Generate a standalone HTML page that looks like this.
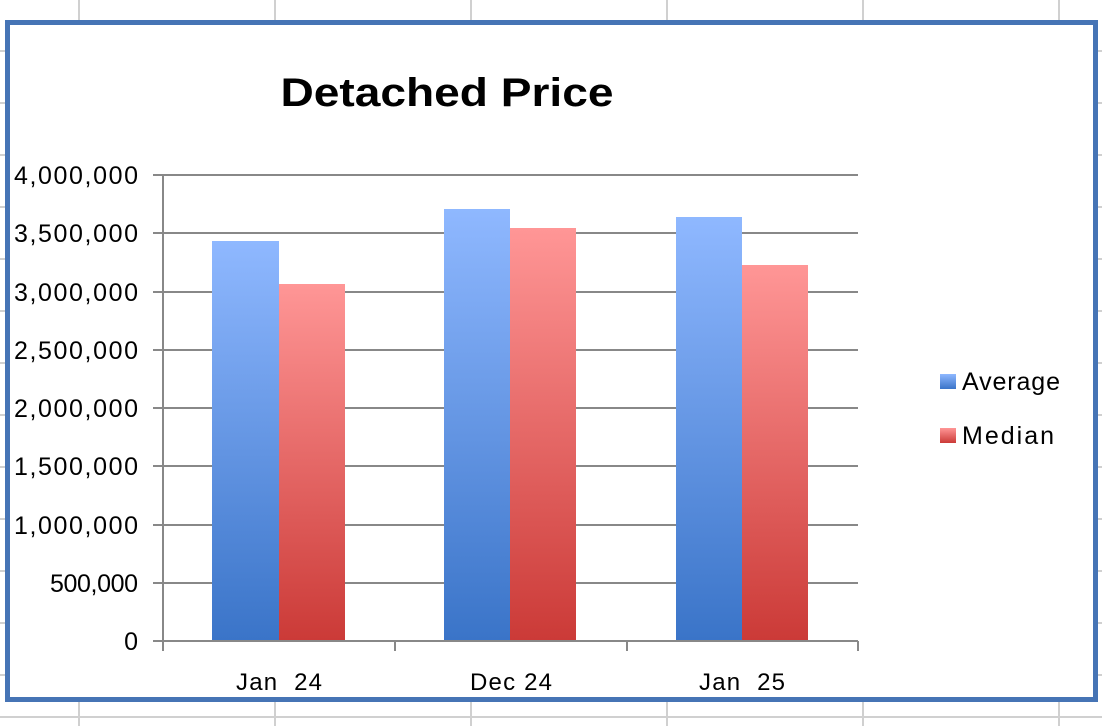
<!DOCTYPE html>
<html><head><style>
html,body{margin:0;padding:0;background:#fff;}
svg{display:block;font-family:"Liberation Sans",sans-serif;}
</style></head><body>
<svg width="1102" height="726" xmlns="http://www.w3.org/2000/svg">
<defs>
<linearGradient id="gb" x1="0" y1="0" x2="0" y2="1">
<stop offset="0" stop-color="#8fb8ff"/><stop offset="1" stop-color="#3a74c8"/></linearGradient>
<linearGradient id="gr" x1="0" y1="0" x2="0" y2="1">
<stop offset="0" stop-color="#ff9696"/><stop offset="1" stop-color="#cb3a37"/></linearGradient>
</defs>
<g stroke="#d0d0d0" stroke-width="2">
<line x1="79" y1="0" x2="79" y2="726"/><line x1="275" y1="0" x2="275" y2="726"/>
<line x1="471" y1="0" x2="471" y2="726"/><line x1="667" y1="0" x2="667" y2="726"/>
<line x1="863" y1="0" x2="863" y2="726"/><line x1="1059" y1="0" x2="1059" y2="726"/>
<line x1="0" y1="51" x2="1102" y2="51"/><line x1="0" y1="103" x2="1102" y2="103"/>
<line x1="0" y1="155" x2="1102" y2="155"/><line x1="0" y1="207" x2="1102" y2="207"/>
<line x1="0" y1="259" x2="1102" y2="259"/><line x1="0" y1="311" x2="1102" y2="311"/>
<line x1="0" y1="363" x2="1102" y2="363"/><line x1="0" y1="415" x2="1102" y2="415"/>
<line x1="0" y1="467" x2="1102" y2="467"/><line x1="0" y1="519" x2="1102" y2="519"/>
<line x1="0" y1="571" x2="1102" y2="571"/><line x1="0" y1="623" x2="1102" y2="623"/>
<line x1="0" y1="675" x2="1102" y2="675"/><line x1="0" y1="717" x2="1102" y2="717"/>
</g>
<rect x="7.5" y="22.5" width="1088" height="677" fill="#fff" stroke="#4674b5" stroke-width="5"/>
<text x="447" y="106" font-size="40" font-weight="bold" text-anchor="middle" textLength="333" lengthAdjust="spacingAndGlyphs">Detached Price</text>
<g stroke="#888" stroke-width="2">
<line x1="153" y1="175" x2="858" y2="175"/><line x1="153" y1="233" x2="858" y2="233"/>
<line x1="153" y1="292" x2="858" y2="292"/><line x1="153" y1="350" x2="858" y2="350"/>
<line x1="153" y1="408" x2="858" y2="408"/><line x1="153" y1="466" x2="858" y2="466"/>
<line x1="153" y1="525" x2="858" y2="525"/><line x1="153" y1="583" x2="858" y2="583"/>
</g>
<rect x="212" y="241" width="67" height="400" fill="url(#gb)"/>
<rect x="279" y="284" width="66" height="357" fill="url(#gr)"/>
<rect x="444" y="209" width="66" height="432" fill="url(#gb)"/>
<rect x="510" y="228" width="66" height="413" fill="url(#gr)"/>
<rect x="676" y="217" width="66" height="424" fill="url(#gb)"/>
<rect x="742" y="265" width="66" height="376" fill="url(#gr)"/>
<g stroke="#888" stroke-width="2">
<line x1="153" y1="641" x2="858" y2="641"/><line x1="163" y1="175" x2="163" y2="651"/>
<line x1="395" y1="641" x2="395" y2="651"/><line x1="627" y1="641" x2="627" y2="651"/>
<line x1="858" y1="641" x2="858" y2="651"/>
</g>
<g font-size="25" text-anchor="end" fill="#000">
<text x="138" y="184" textLength="124">4,000,000</text><text x="138" y="242" textLength="124">3,500,000</text>
<text x="138" y="301" textLength="124">3,000,000</text><text x="138" y="359" textLength="124">2,500,000</text>
<text x="138" y="417" textLength="124">2,000,000</text><text x="138" y="475" textLength="124">1,500,000</text>
<text x="138" y="534" textLength="124">1,000,000</text><text x="138" y="592" textLength="88">500,000</text>
<text x="138" y="650">0</text>
</g>
<g font-size="24" text-anchor="middle">
<text x="279" y="690" xml:space="preserve" textLength="86">Jan  24</text>
<text x="511" y="690" textLength="82">Dec 24</text>
<text x="742" y="690" xml:space="preserve" textLength="86">Jan  25</text>
</g>
<rect x="940" y="374" width="16" height="15" fill="url(#gb)"/>
<rect x="940" y="428" width="16" height="15" fill="url(#gr)"/>
<text x="962" y="390" font-size="25" textLength="98">Average</text>
<text x="962" y="444" font-size="25" textLength="92">Median</text>
</svg>
</body></html>
